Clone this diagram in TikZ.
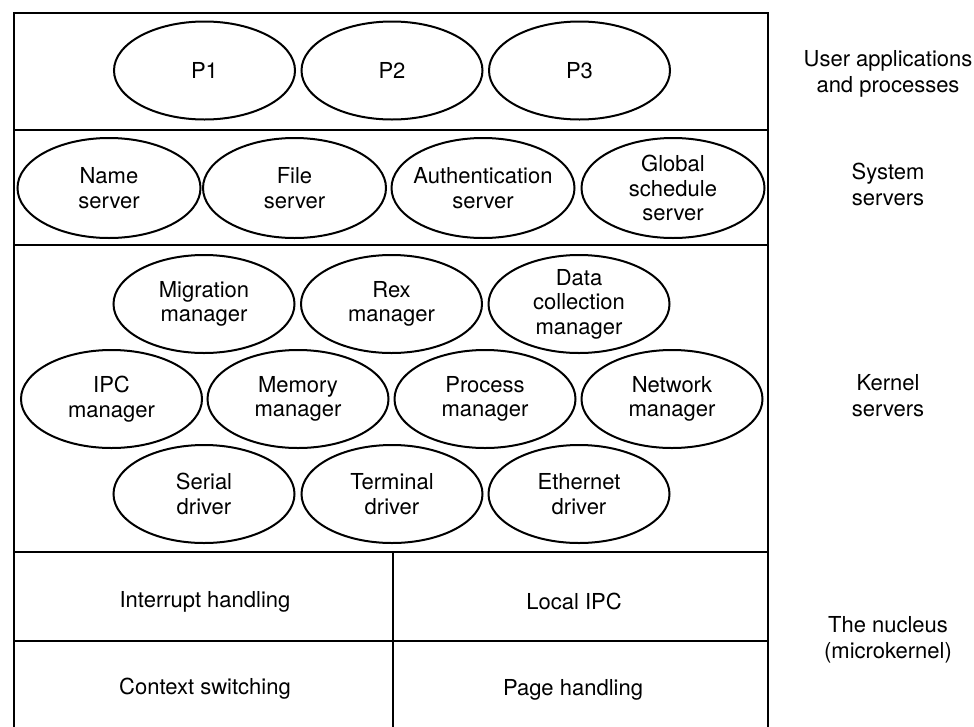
\documentclass[tikz,border=0pt]{standalone}
\usepackage{fontspec}
\setmainfont{TeX Gyre Heros}
\usetikzlibrary{shapes.geometric}
\newcommand\diagfont{\fontsize{22}{24.5}\selectfont}
\newcommand\sidefont{\fontsize{22}{26}\selectfont}
\begin{document}
\begin{tikzpicture}[x=1pt,y=-1pt,line width=2pt,
  oval/.style={ellipse, draw, minimum width=181pt, minimum height=98pt,
               inner xsep=-30pt, inner ysep=-15pt, align=center, font=\diagfont},
  wideoval/.style={oval, minimum width=183pt, minimum height=100pt},
  celltext/.style={font=\diagfont, inner sep=0pt},
  layerlabel/.style={align=center, font=\sidefont, inner sep=0pt}]
\useasboundingbox (0,0) rectangle (974,726);

% outer frame (open at the bottom) and layer separators
\draw (14,727) -- (14,13) -- (768,13) -- (768,727);
\draw (14,130) -- (768,130);
\draw (14,245) -- (768,245);
\draw (14,552) -- (768,552);
\draw (14,641) -- (768,641);
\draw (393,552) -- (393,727);

% user applications and processes
\node[oval] (p1) at (204.5,70.5) {P1};
\node[oval] (p2) at (392,70.5) {P2};
\node[oval] (p3) at (579.5,70.5) {P3};

% system servers
\node[wideoval] (name)   at (109,188)   {Name\\server};
\node[wideoval] (file)   at (294.5,188) {File\\server};
\node[wideoval] (auth)   at (483,188)   {Authentication\\server};
\node[wideoval] (global) at (673,188)   {Global\\schedule\\server};

% kernel servers
\node[oval] (migr) at (204,304)   {Migration\\manager};
\node[oval] (rex)  at (391.5,304) {Rex\\manager};
\node[oval] (data) at (579,304)   {Data\\collection\\manager};

\node[oval] (ipc)  at (111.5,399) {IPC\\manager};
\node[oval] (mem)  at (298,399)   {Memory\\manager};
\node[oval] (proc) at (485,399)   {Process\\manager};
\node[oval] (net)  at (672,399)   {Network\\manager};

\node[oval] (serial) at (204,494) {Serial\\driver};
\node[oval] (term)   at (392,494) {Terminal\\driver};
\node[oval] (eth)    at (579,494) {Ethernet\\driver};

% nucleus
\node[celltext] (intr) at (205,602) {Interrupt handling};
\node[celltext] (lipc) at (574,601) {Local IPC};
\node[celltext] (ctx)  at (205,689) {Context switching};
\node[celltext] (page) at (573,690) {Page handling};

% layer captions
\node[layerlabel] (lusr) at (888,74)  {User applications\\and processes};
\node[layerlabel] (lsys) at (888,184) {System\\servers};
\node[layerlabel] (lker) at (888,396) {Kernel\\servers};
\node[layerlabel] (lnuc) at (888,640) {The nucleus\\(microkernel)};
\end{tikzpicture}
\end{document}
